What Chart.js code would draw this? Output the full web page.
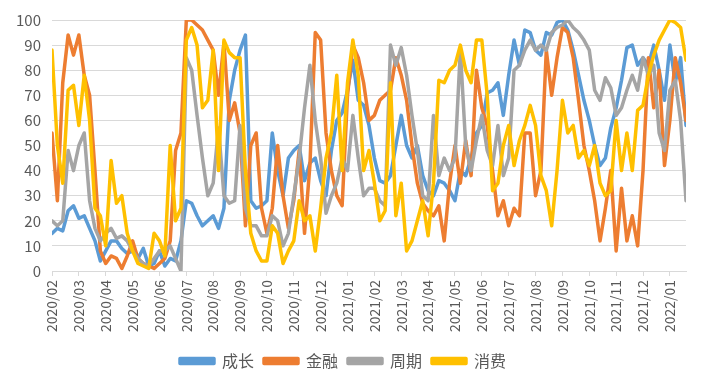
<!DOCTYPE html>
<html><head><meta charset="utf-8">
<script src="https://cdn.jsdelivr.net/npm/chart.js@4.4.1/dist/chart.umd.min.js"></script>
<style>html,body{margin:0;padding:0;background:#fff;}#wrap{width:708px;height:381px;}</style>
</head><body><div id="wrap"><canvas id="c" width="708" height="381"></canvas></div>
<script>
const monthLabels = ['2020/02','2020/03','2020/04','2020/05','2020/06','2020/07','2020/08','2020/09','2020/10','2020/11','2020/12',
  '2021/01','2021/02','2021/03','2021/04','2021/05','2021/06','2021/07','2021/08','2021/09','2021/10','2021/11','2021/12','2022/01'];
const seriesNames = ['成长','金融','周期','消费'];
const POINTS_PER_MONTH = 5;
const growth = [15,17,16,24,26, 21,22,17,12,4, 8,12,12,9,7, 8,5,9,2,3, 8,2,5,4,12, 28,27,22,18,20, 22,17,25,68,80,
  88,94,28,25,26, 28,55,40,30,45, 48,50,36,43,45, 36,30,48,60,63, 72,84,68,66,58, 45,36,35,38,50, 62,50,45,50,38,
  32,30,36,35,32, 28,40,38,45,55, 58,71,72,75,62, 78,92,82,96,95, 88,86,95,94,99, 100,96,88,78,68, 60,50,42,45,57,
  65,76,89,90,82, 85,82,90,80,68, 90,75,85,58];
const finance = [55,28,75,94,86, 94,78,70,40,8, 3,6,5,1,6, 12,5,3,2,1, 3,5,12,48,55, 100,100,98,96,92, 88,70,91,60,67,
  55,18,50,55,25, 15,25,50,30,17, 28,48,15,42,95, 92,55,40,30,26, 70,90,85,75,60, 62,68,70,72,85, 78,68,50,35,27,
  24,22,26,12,35, 50,35,52,38,80, 65,58,40,22,28, 18,25,22,55,55, 30,40,88,70,85, 97,95,85,68,50, 40,28,12,25,40,
  8,33,12,22,10, 40,85,65,80,42, 60,85,75,60];
const cycle = [20,18,20,48,40, 50,55,28,17,12, 15,17,13,14,12, 8,5,3,2,5, 8,8,10,5,0, 85,80,62,45,30, 35,57,30,27,28,
  58,25,18,18,14, 14,22,20,10,15, 30,45,65,82,60, 45,23,30,35,45, 40,62,45,30,33, 33,28,26,90,82, 89,78,62,48,30,
  28,62,38,45,40, 45,88,50,40,52, 62,48,42,58,38, 45,80,82,88,92, 88,90,88,95,97, 98,100,97,95,92, 88,72,68,77,73,
  62,65,72,78,72, 85,78,82,55,48, 72,76,60,28];
const consumption = [88,50,35,72,74, 58,78,60,25,22, 10,44,27,30,15, 8,3,2,1,15, 12,6,50,20,25, 92,97,90,65,68, 88,40,92,87,85,
  85,40,15,8,4, 4,18,15,3,8, 12,28,20,22,8, 25,45,55,78,40, 75,92,78,40,48, 35,20,24,75,22, 35,8,12,20,28,
  14,35,76,75,80, 82,90,80,75,92, 92,70,32,35,50, 58,42,52,58,66, 58,38,32,18,40, 68,55,58,45,48, 42,50,35,30,32,
  60,40,55,40,64, 66,78,86,92,96, 100,99,97,84];
const colors = ['#5B9BD5','#ED7D31','#A5A5A5','#FFC000'];
const allSeries = [growth, finance, cycle, consumption];

function toPoints(values){ return values.map((v,i)=>({x: i / POINTS_PER_MONTH, y: v})); }
const lastX = (growth.length - 1) / POINTS_PER_MONTH;
const FONT = "'Noto Sans CJK SC', 'Liberation Sans', sans-serif";

new Chart(document.getElementById('c'), {
  type: 'line',
  data: {
    datasets: allSeries.map((vals, i) => ({
      label: seriesNames[i],
      data: toPoints(vals),
      borderColor: colors[i],
      backgroundColor: colors[i],
      borderWidth: 3.5,
      pointRadius: 0,
      tension: 0,
      borderJoinStyle: 'round',
      borderCapStyle: 'round',
      order: 3 - i
    }))
  },
  options: {
    responsive: false,
    devicePixelRatio: 1,
    animation: false,
    layout: {padding: {left: 0, right: 22, top: 17, bottom: 2}},
    plugins: {
      tooltip: {enabled: false},
      legend: {
        position: 'bottom',
        labels: {
          boxWidth: 34, boxHeight: 5, padding: 10,
          color: '#595959',
          font: {family: FONT, size: 16},
          sort: (a, b) => a.datasetIndex - b.datasetIndex
        }
      }
    },
    scales: {
      x: {
        type: 'linear',
        min: 0, max: lastX,
        grid: {drawOnChartArea: false, drawTicks: true, tickLength: 5, color: '#D9D9D9'},
        border: {display: true, color: '#D9D9D9'},
        ticks: {
          stepSize: 1, includeBounds: false, maxTicksLimit: 40, autoSkip: false,
          minRotation: 90, maxRotation: 90, padding: 4,
          color: '#595959', font: {family: FONT, size: 14},
          callback: (v) => { const r = Math.round(v); return Math.abs(v - r) < 1e-6 && monthLabels[r] ? monthLabels[r] : ''; }
        },
        afterFit: (s) => { s.height = 72; }
      },
      y: {
        min: 0, max: 100,
        grid: {color: '#D9D9D9', drawTicks: false},
        border: {display: false},
        ticks: {stepSize: 10, padding: 11, color: '#595959', font: {family: FONT, size: 15}},
        afterFit: (s) => { s.width = 52; }
      }
    }
  }
});
</script></body></html>
